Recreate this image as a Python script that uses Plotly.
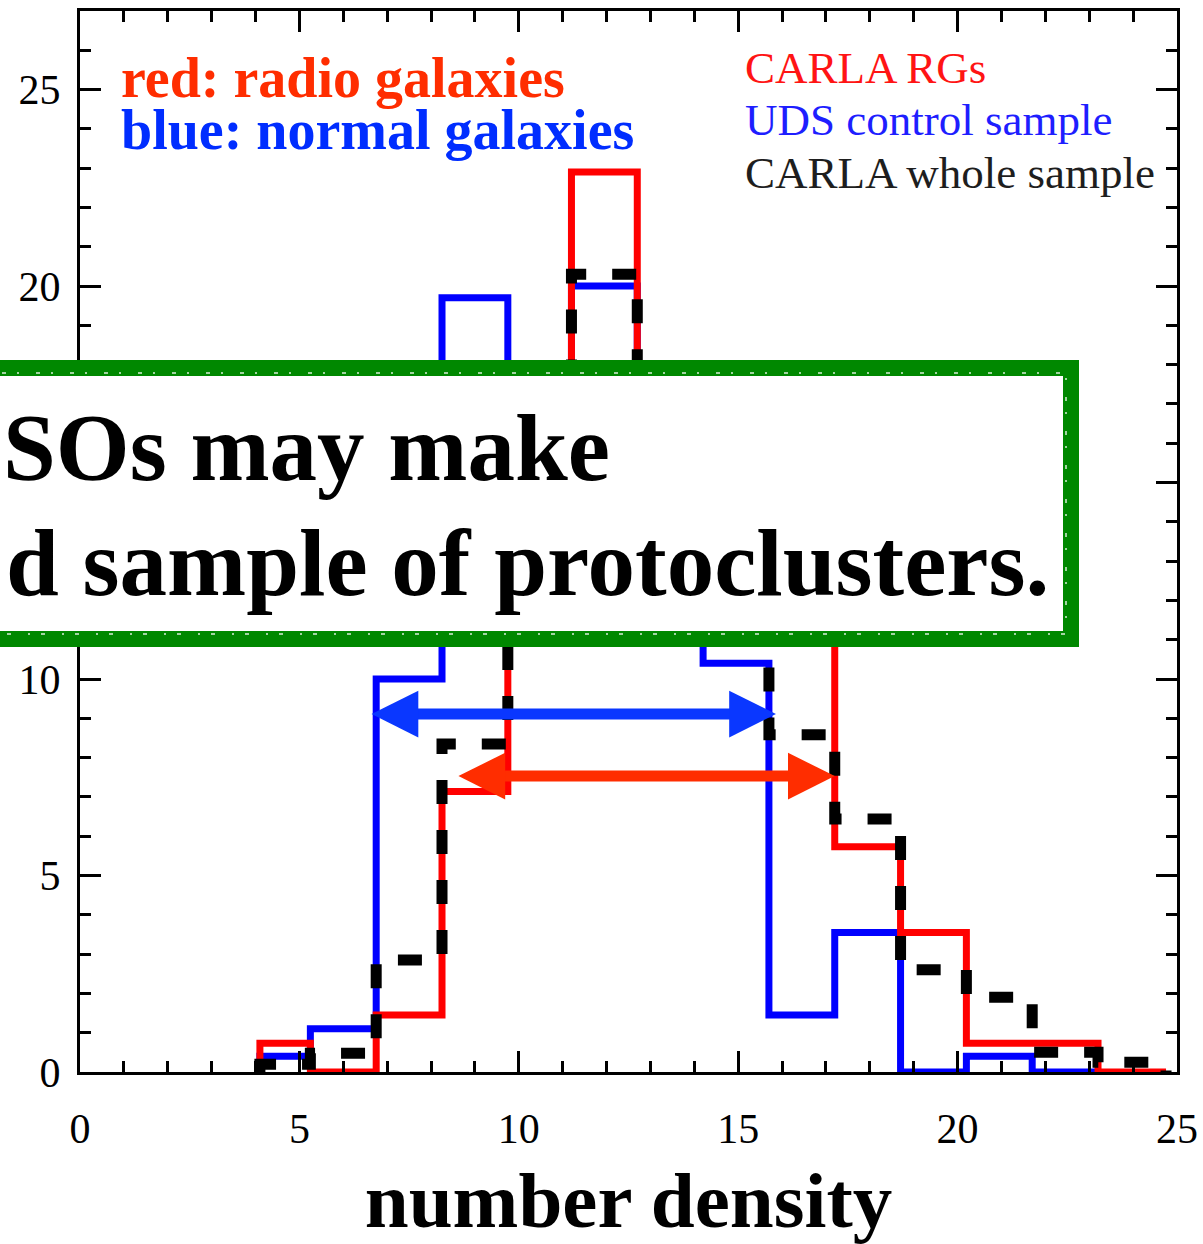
import plotly.graph_objects as go

# ---------------- data ----------------
bin_edges = [4.1, 5.25, 6.75, 8.25, 9.75, 11.2, 12.7, 14.2, 15.7, 17.2, 18.7, 20.2, 21.7, 23.2, 24.75]
uds_counts = [0.4, 1.1, 10.0, 19.7, 15.0, 20.0, 14.0, 10.4, 1.45, 3.55, 0.0, 0.4, 0.0]
carla_rg_counts = [0.73, 0.0, 1.45, 7.14, 13.0, 22.9, 16.0, 15.0, 12.0, 5.73, 3.55, 0.73, 0.73, 0.0]
carla_all_counts = [0.2, 0.48, 2.85, 8.35, 14.0, 20.3, 16.0, 13.0, 8.58, 6.44, 2.6, 1.9, 0.5, 0.25]

blue_range_x = [6.61, 15.86]
blue_range_y = 9.11
red_range_x = [8.59, 17.2]
red_range_y = 7.53

x_ticks = [0, 5, 10, 15, 20, 25]
y_ticks = [0, 5, 10, 15, 20, 25]

# ---------------- geometry helpers (pixel -> paper) ----------------
W, H = 1203, 1244
L, R, T, B = 80, 1177, 11, 1072


def xp(px):
    return (px - L) / (R - L)


def yp(py):
    return (B - py) / (B - T)


def step_xy(edges, counts):
    n = len(counts)
    xs = [edges[0]] + list(edges[:n]) + [edges[n], edges[n]]
    ys = [0] + list(counts) + [counts[-1], 0]
    return xs, ys


fig = go.Figure()

for counts, color, width, dash, name in [
    (uds_counts, "rgb(0,0,255)", 7, "solid", "UDS control sample"),
    (carla_rg_counts, "rgb(255,0,0)", 7, "solid", "CARLA RGs"),
    (carla_all_counts, "black", 11, "24px,26px", "CARLA whole sample"),
]:
    xs, ys = step_xy(bin_edges, counts)
    fig.add_trace(go.Scatter(x=xs, y=ys, mode="lines", name=name,
                             line=dict(color=color, width=width, dash=dash, shape="hv"),
                             showlegend=False, hoverinfo="skip"))

serif = "Liberation Serif, Times New Roman, serif"
annotations = []

# double-headed arrows
for (x0, x1), yv, col in [(blue_range_x, blue_range_y, "rgb(10,55,255)"),
                          (red_range_x, red_range_y, "rgb(255,45,0)")]:
    annotations.append(dict(x=x1, y=yv, ax=x0, ay=yv, xref="x", yref="y", axref="x", ayref="y",
                            text="", showarrow=True, arrowhead=2, startarrowhead=2,
                            arrowside="end+start", arrowwidth=11, arrowsize=0.85,
                            startarrowsize=0.85, arrowcolor=col))


def txt(text, px, py_base, size, color, bold=False, xanchor="left"):
    t = f"<b>{text}</b>" if bold else text
    annotations.append(dict(x=xp(px), y=yp(py_base - 0.34 * size), xref="paper", yref="paper",
                            text=t, showarrow=False, xanchor=xanchor, yanchor="middle",
                            borderpad=0, borderwidth=0,
                            font=dict(family=serif, size=size, color=color)))


txt("red: radio galaxies", 121, 97, 56, "rgb(255,45,0)", bold=True)
txt("blue: normal galaxies", 121, 149, 56, "rgb(0,45,255)", bold=True)
txt("CARLA RGs", 745, 83, 45, "rgb(255,20,20)")
txt("UDS control sample", 745, 135, 45, "rgb(30,30,255)")
txt("CARLA whole sample", 745, 188, 45, "rgb(30,30,30)")

# boxed overlay text
txt("SOs may make", 3, 480, 95, "black", bold=True)
txt("d sample of protoclusters.", 1049, 595, 95, "black", bold=True, xanchor="right")

box_x0, box_x1, box_y0, box_y1 = xp(-40), xp(1071), yp(639), yp(368)
shapes = [
    dict(type="rect", xref="paper", yref="paper", x0=box_x0, x1=box_x1, y0=box_y0, y1=box_y1,
         line=dict(color="rgb(0,136,0)", width=16), fillcolor="white", layer="above"),
    # light speckle to mimic the hand-drawn stroke
    dict(type="rect", xref="paper", yref="paper", x0=box_x0, x1=xp(1066), y0=yp(634), y1=yp(373),
         line=dict(color="rgba(255,255,255,0.85)", width=1.5, dash="2px,11px,4px,17px"),
         fillcolor="rgba(0,0,0,0)", layer="above"),
]

axis_common = dict(showline=True, linewidth=3, linecolor="black", mirror="allticks",
                   ticks="inside", ticklen=21, tickwidth=3, tickcolor="black",
                   showgrid=False, zeroline=False,
                   tickfont=dict(family=serif, size=42, color="black"),
                   minor=dict(ticks="inside", ticklen=11, tickwidth=3, tickcolor="black",
                              dtick=1, showgrid=False))

fig.update_layout(
    width=W, height=H,
    margin=dict(l=L, r=W - R, t=T, b=H - B, autoexpand=False),
    paper_bgcolor="white", plot_bgcolor="white",
    xaxis=dict(range=[0, 25], tickvals=x_ticks, ticktext=[str(v) for v in x_ticks],
               ticklabelstandoff=18,
               title=dict(text="<b>number density</b>", standoff=32,
                          font=dict(family=serif, size=79, color="black")),
               **axis_common),
    yaxis=dict(range=[0, 27], tickvals=y_ticks, ticktext=[str(v) for v in y_ticks],
               ticklabelstandoff=8, **axis_common),
    annotations=annotations,
    shapes=shapes,
)

fig.write_html("out.html")
